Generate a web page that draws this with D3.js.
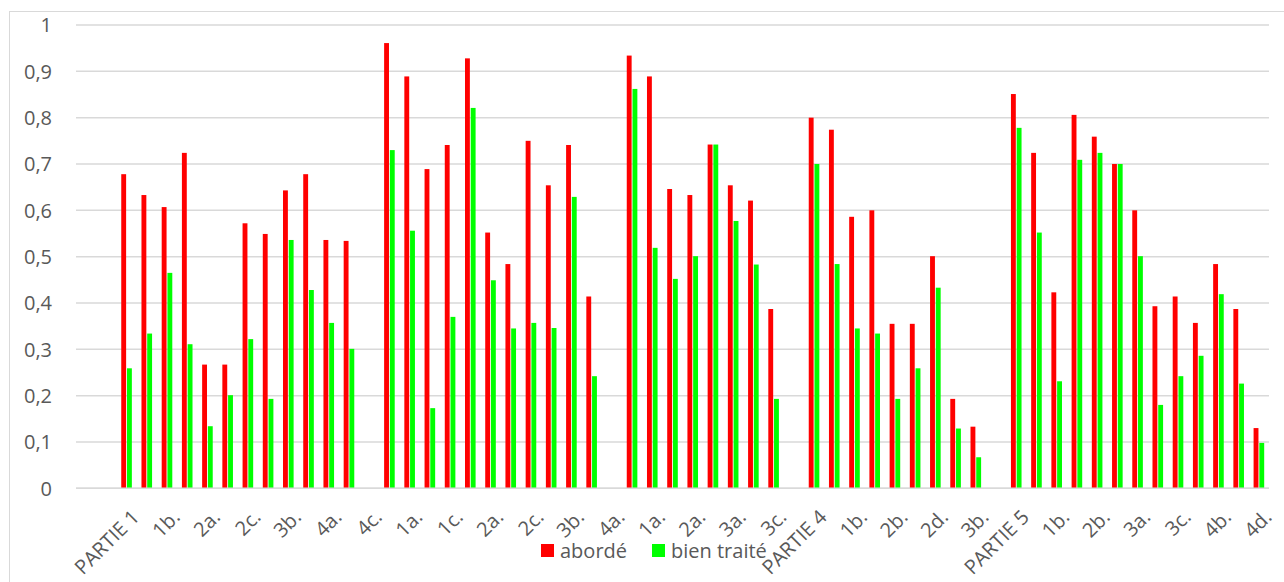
<!DOCTYPE html>
<html>
<head>
<meta charset="utf-8">
<script src="https://cdn.jsdelivr.net/npm/d3@7"></script>
<style>
  html, body { margin: 0; padding: 0; background: #fff; }
  svg { display: block; }
  text { font-family: "Open Sans", Calibri, Lato, sans-serif; fill: #595959; }
</style>
</head>
<body>
<svg id="chart" width="1284" height="582"></svg>
<script>
// ---- data ----
const categories = [
  "", "",
  "PARTIE 1", "1a.", "1b.", "1c.", "2a.", "2b.", "2c.", "3a.", "3b.", "3c.", "4a.", "4b.", "4c.",
  "PARTIE 2", "1a.", "1b.", "1c.", "1d.", "2a.", "2b.", "2c.", "3a.", "3b.", "3c.", "4a.",
  "PARTIE 3", "1a.", "1b.", "2a.", "2b.", "3a.", "3b.", "3c.", "3d.",
  "PARTIE 4", "1a.", "1b.", "2a.", "2b.", "2c.", "2d.", "3a.", "3b.", "3c.",
  "PARTIE 5", "1a.", "1b.", "2a.", "2b.", "2c.", "3a.", "3b.", "3c.", "4a.", "4b.", "4c.", "4d."
];
const aborde = [
  null, null,
  0.678, 0.633, 0.607, 0.724, 0.267, 0.267, 0.572, 0.549, 0.643, 0.678, 0.536, 0.534, null,
  0.961, 0.889, 0.689, 0.741, 0.928, 0.552, 0.484, 0.750, 0.654, 0.741, 0.414, null,
  0.934, 0.889, 0.646, 0.633, 0.742, 0.654, 0.621, 0.387, null,
  0.800, 0.774, 0.586, 0.600, 0.355, 0.355, 0.501, 0.193, 0.133, null,
  0.851, 0.724, 0.423, 0.806, 0.759, 0.700, 0.600, 0.393, 0.414, 0.357, 0.484, 0.387, 0.130
];
const bienTraite = [
  null, null,
  0.259, 0.334, 0.465, 0.311, 0.134, 0.201, 0.322, 0.193, 0.536, 0.428, 0.357, 0.301, null,
  0.730, 0.556, 0.173, 0.370, 0.821, 0.449, 0.345, 0.357, 0.346, 0.629, 0.242, null,
  0.862, 0.519, 0.452, 0.501, 0.742, 0.577, 0.483, 0.193, null,
  0.700, 0.484, 0.345, 0.334, 0.193, 0.259, 0.433, 0.129, 0.067, null,
  0.778, 0.552, 0.231, 0.709, 0.724, 0.700, 0.501, 0.180, 0.242, 0.286, 0.419, 0.226, 0.098
];
const seriesNames = ["abordé", "bien traité"];
const seriesColors = ["#FF0000", "#00FF00"];
const yTicks = [0, 0.1, 0.2, 0.3, 0.4, 0.5, 0.6, 0.7, 0.8, 0.9, 1];
const yTickLabels = ["0", "0,1", "0,2", "0,3", "0,4", "0,5", "0,6", "0,7", "0,8", "0,9", "1"];

// ---- layout ----
const svg = d3.select("#chart");
const plot = { left: 76, right: 1269, top: 25, bottom: 488.3 };

// chart border
svg.append("rect")
  .attr("x", 9.5).attr("y", 11.5)
  .attr("width", 1300).attr("height", 600)
  .attr("fill", "none").attr("stroke", "#d9d9d9").attr("stroke-width", 1);

const idx = categories.map((d, i) => i);
const x = d3.scaleBand().domain(idx).range([plot.left, plot.right]).paddingInner(0).paddingOuter(0);
const bw = x.bandwidth();
const x1 = d3.scaleBand().domain(seriesNames)
  .range([bw / 2 - 5.3, bw / 2 + 5.3]).paddingInner(0.15).paddingOuter(0);
const y = d3.scaleLinear().domain([0, 1]).range([plot.bottom, plot.top]);

// gridlines
svg.append("g").selectAll("line").data(yTicks).join("line")
  .attr("x1", plot.left).attr("x2", plot.right)
  .attr("y1", d => y(d)).attr("y2", d => y(d))
  .attr("stroke", "#d9d9d9").attr("stroke-width", 1.5);

// y labels
svg.append("g").selectAll("text").data(yTicks).join("text")
  .attr("x", 52).attr("y", d => y(d))
  .attr("dy", "0.36em")
  .attr("text-anchor", "end")
  .style("font-size", "20px")
  .text((d, i) => yTickLabels[i]);

// bars
const seriesData = [aborde, bienTraite];
seriesNames.forEach((name, s) => {
  const rows = idx.filter(i => seriesData[s][i] != null);
  svg.append("g").selectAll("rect").data(rows).join("rect")
    .attr("x", i => x(i) + x1(name))
    .attr("width", x1.bandwidth())
    .attr("y", i => y(seriesData[s][i]))
    .attr("height", i => y(0) - y(seriesData[s][i]))
    .attr("fill", seriesColors[s]);
});

// x axis line
svg.append("line")
  .attr("x1", plot.left).attr("x2", plot.right)
  .attr("y1", y(0)).attr("y2", y(0))
  .attr("stroke", "#d9d9d9").attr("stroke-width", 1.5);

// x labels (every other category)
const xAxis = d3.axisBottom(x)
  .tickValues(idx.filter(i => i % 2 === 0))
  .tickSize(0)
  .tickFormat(i => categories[i]);
const gx = svg.append("g").attr("transform", `translate(0,${y(0)})`).call(xAxis);
gx.select(".domain").remove();
gx.selectAll("text")
  .style("font-size", "20px")
  .style("fill", "#595959")
  .attr("font-family", null)
  .attr("text-anchor", "end")
  .attr("dy", null).attr("y", 0)
  .attr("transform", d => `translate(${bw / 2 + 4},30) rotate(-45)`);

// legend
const legendItems = [
  { name: seriesNames[0], color: seriesColors[0], x: 541 },
  { name: seriesNames[1], color: seriesColors[1], x: 652 }
];
const lg = svg.append("g");
legendItems.forEach(it => {
  lg.append("rect").attr("x", it.x).attr("y", 544).attr("width", 13).attr("height", 13).attr("fill", it.color);
  lg.append("text").attr("x", it.x + 19).attr("y", 550.5).attr("dy", "0.36em")
    .style("font-size", "20px").text(it.name);
});
</script>
</body>
</html>
